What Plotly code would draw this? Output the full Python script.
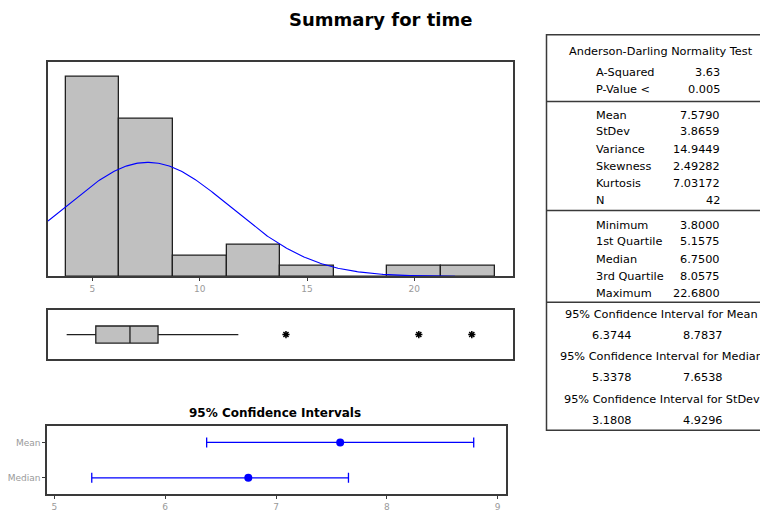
import numpy as np
import plotly.graph_objects as go

# ---------------- data ----------------
bin_centers = [5.0, 7.5, 10.0, 12.5, 15.0, 17.5, 20.0, 22.5]
bin_counts = [19, 15, 2, 3, 1, 0, 1, 1]
bin_width = 2.5

mean_val = 7.5790
stdev_val = 3.8659
n_obs = 42

box_q1 = 5.1575
box_median = 6.7500
box_q3 = 8.0575
box_low_whisker = 3.8000
box_high_whisker = 11.80
box_outliers = [14.02, 20.21, 22.68]

ci_labels = ["Mean", "Median"]
ci_centers = [7.5790, 6.7500]
ci_lower = [6.3744, 5.3378]
ci_upper = [8.7837, 7.6538]

hist_ticks = [5, 10, 15, 20]
ci_ticks = [5, 6, 7, 8, 9]

ad_labels = ["A-Squared", "P-Value <"]
ad_values = ["3.63", "0.005"]
moment_labels = ["Mean", "StDev", "Variance", "Skewness", "Kurtosis", "N"]
moment_values = ["7.5790", "3.8659", "14.9449", "2.49282", "7.03172", "42"]
quant_labels = ["Minimum", "1st Quartile", "Median", "3rd Quartile", "Maximum"]
quant_values = ["3.8000", "5.1575", "6.7500", "8.0575", "22.6800"]
ci_table_titles = ["95% Confidence Interval for Mean",
                   "95% Confidence Interval for Median",
                   "95% Confidence Interval for StDev"]
ci_table_low = ["6.3744", "5.3378", "3.1808"]
ci_table_high = ["8.7837", "7.6538", "4.9296"]

# ---------------- helpers ----------------
OFF = 8            # page body margin
W, H = 768 - OFF, 512 - OFF
def px(x):
    return (x - OFF) / W
def py(y):
    return 1 - (y - OFF) / H

FONT = "DejaVu Sans"
FRAME = "#3a3a3a"
TICKGRAY = "#9a9a9a"
BLUE = "#0000ff"

fig = go.Figure()

# histogram bars
fig.add_trace(go.Bar(
    x=bin_centers, y=bin_counts, width=bin_width,
    marker=dict(color="#c0c0c0", line=dict(color="#202020", width=1.3)),
    xaxis="x", yaxis="y", showlegend=False, hoverinfo="skip"))

# fitted normal curve (from the shown mean / stdev)
xc = np.linspace(2.93, 21.9, 300)
yc = n_obs * bin_width * np.exp(-0.5 * ((xc - mean_val) / stdev_val) ** 2) / (stdev_val * np.sqrt(2 * np.pi))
fig.add_trace(go.Scatter(x=xc, y=yc, mode="lines", line=dict(color=BLUE, width=1.1),
                         xaxis="x", yaxis="y", showlegend=False, hoverinfo="skip"))

# boxplot
fig.add_trace(go.Box(
    y=[0], q1=[box_q1], median=[box_median], q3=[box_q3],
    lowerfence=[box_low_whisker], upperfence=[box_high_whisker],
    orientation="h", width=0.7, whiskerwidth=0,
    fillcolor="#c0c0c0", line=dict(color="#202020", width=1.3),
    xaxis="x2", yaxis="y2", showlegend=False, hoverinfo="skip", boxpoints=False))
fig.add_trace(go.Scatter(
    x=box_outliers, y=[0] * len(box_outliers), mode="markers",
    marker=dict(symbol="asterisk-open", size=6, color="black", line=dict(color="black", width=1.5)),
    xaxis="x2", yaxis="y2", showlegend=False, hoverinfo="skip"))

# confidence intervals
ci_y = [1, 0]
fig.add_trace(go.Scatter(
    x=ci_centers, y=ci_y, mode="markers",
    marker=dict(color=BLUE, size=8),
    error_x=dict(type="data", symmetric=False,
                 array=[u - c for u, c in zip(ci_upper, ci_centers)],
                 arrayminus=[c - l for c, l in zip(ci_centers, ci_lower)],
                 color=BLUE, thickness=1.3, width=5),
    xaxis="x3", yaxis="y3", showlegend=False, hoverinfo="skip"))

axis_common = dict(showline=True, mirror=True, linecolor=FRAME, linewidth=1.5,
                   showgrid=False, zeroline=False)

fig.update_layout(
    width=W, height=H, margin=dict(l=0, r=0, t=0, b=0),
    paper_bgcolor="white", plot_bgcolor="white",
    font=dict(family=FONT, size=10, color="black"),
    bargap=0,
    xaxis=dict(domain=[px(48), px(513)], range=[2.93, 24.6], anchor="y",
               tickvals=hist_ticks, ticks="outside", ticklen=3, tickcolor=FRAME,
               tickfont=dict(color=TICKGRAY, size=9, family=FONT), **axis_common),
    yaxis=dict(domain=[py(278), py(62)], range=[0, 20.4], anchor="x",
               showticklabels=False, ticks="", **axis_common),
    xaxis2=dict(domain=[px(48), px(513)], range=[2.93, 24.6], anchor="y2",
                showticklabels=False, ticks="", **axis_common),
    yaxis2=dict(domain=[py(361), py(312)], range=[-1, 1], anchor="x2",
                showticklabels=False, ticks="", **axis_common),
    xaxis3=dict(domain=[px(47), px(506)], range=[4.934, 9.075], anchor="y3",
                tickvals=ci_ticks, ticks="outside", ticklen=3, tickcolor=FRAME,
                tickfont=dict(color=TICKGRAY, size=9, family=FONT), **axis_common),
    yaxis3=dict(domain=[py(497), py(428)], range=[-0.457, 1.476], anchor="x3",
                tickvals=ci_y, ticktext=ci_labels, ticks="outside", ticklen=3, tickcolor=FRAME,
                tickfont=dict(color=TICKGRAY, size=9, family=FONT), **axis_common),
)

annotations = []
shapes = []

def text(x, y, s, xanchor="center", size=11, bold=False, color="black"):
    annotations.append(dict(
        x=px(x), y=py(y), xref="paper", yref="paper", text=(f"<b>{s}</b>" if bold else s),
        showarrow=False, xanchor=xanchor, yanchor="middle",
        font=dict(family=FONT, size=size, color=color)))

# titles
text(380, 20, "Summary for time", size=18, bold=True)
text(275, 415, "95% Confidence Intervals", size=12, bold=True)

# table frame
shapes.append(dict(type="rect", xref="paper", yref="paper",
                   x0=px(546.5), x1=px(800), y0=py(432.7), y1=py(35),
                   line=dict(color=FRAME, width=1.5)))
for ysep in [102, 211.7, 304]:
    shapes.append(dict(type="line", xref="paper", yref="paper",
                       x0=px(546.5), x1=px(800), y0=py(ysep), y1=py(ysep),
                       line=dict(color=FRAME, width=1.5)))

LBL_X = 594
VAL_X = 722
TS = 11.3
text(661, 51.7, "Anderson-Darling Normality Test", size=TS)
for lab, val, yy in zip(ad_labels, ad_values, [73.3, 90]):
    text(LBL_X, yy, lab, xanchor="left", size=TS)
    text(VAL_X, yy, val, xanchor="right", size=TS)
for lab, val, yy in zip(moment_labels, moment_values, [116, 132.7, 150, 167.7, 185, 201.7]):
    text(LBL_X, yy, lab, xanchor="left", size=TS)
    text(VAL_X, yy, val, xanchor="right", size=TS)
for lab, val, yy in zip(quant_labels, quant_values, [226.7, 243.3, 260.7, 278.3, 295]):
    text(LBL_X, yy, lab, xanchor="left", size=TS)
    text(VAL_X, yy, val, xanchor="right", size=TS)
for t, lo, hi, yt, yv in zip(ci_table_titles, ci_table_low, ci_table_high,
                             [316, 358.3, 401.7], [337.3, 379.3, 422.7]):
    text(661.5, yt, t, size=TS)
    text(612, yv, lo, size=TS)
    text(703, yv, hi, size=TS)

fig.update_layout(annotations=annotations, shapes=shapes)
fig.write_html("out.html")
